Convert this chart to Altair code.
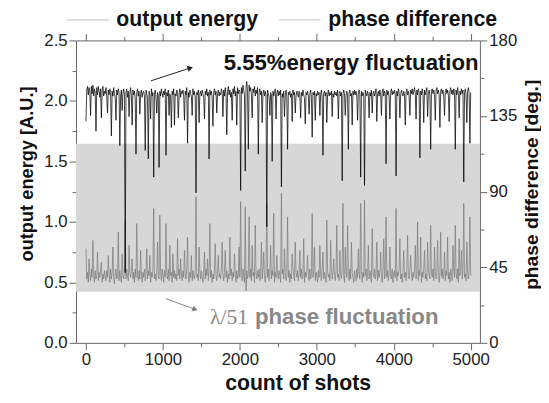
import altair as alt
import pandas as pd

# ---------------- data (one value every 10 shots) ----------------
shots = list(range(0, 5001, 10))

energy = (
    [1.83, 2.09, 2.12, 2.05, 2.11, 2.08, 1.88, 2.12, 2.06, 2.13, 2.04, 2.10, 2.07, 1.75, 2.11, 2.05, 2.12, 2.08, 2.03, 2.10, 1.86, 2.09, 2.12, 2.04, 2.08]
    + [2.06, 2.11, 2.03, 1.90, 2.09, 2.05, 2.10, 2.07, 1.71, 2.08, 2.04, 2.11, 2.06, 2.02, 1.84, 2.09, 2.05, 2.10, 2.07, 1.63, 2.04, 2.09, 1.92, 2.06, 2.10]
    + [2.05, 0.58, 2.07, 2.10, 2.03, 2.08, 1.87, 2.06, 2.11, 2.04, 1.80, 2.09, 2.05, 2.08, 2.02, 1.56, 2.07, 2.10, 2.04, 2.08, 1.89, 2.06, 2.09, 2.03, 2.07]
    + [2.08, 2.04, 1.59, 2.09, 2.06, 2.02, 1.52, 2.08, 2.05, 1.85, 2.10, 2.04, 2.07, 1.37, 2.05, 2.09, 2.03, 1.90, 2.07, 2.05, 1.45, 2.08, 2.04, 2.10, 2.06]
    + [2.03, 2.08, 2.05, 2.10, 1.55, 2.07, 2.04, 2.09, 1.88, 2.06, 2.03, 1.78, 2.08, 2.05, 2.10, 1.80, 2.06, 2.04, 2.09, 2.07, 1.86, 2.05, 2.10, 2.03, 2.08]
    + [2.06, 2.09, 2.04, 1.84, 2.08, 2.05, 2.11, 1.65, 2.07, 2.03, 2.09, 2.06, 2.04, 1.88, 2.10, 2.05, 2.08, 2.03, 1.24, 2.07, 2.05, 2.09, 1.82, 2.06, 2.08]
    + [2.04, 2.09, 2.06, 2.03, 1.85, 2.08, 2.05, 2.10, 2.04, 2.07, 1.52, 2.09, 2.05, 2.08, 2.03, 1.79, 2.07, 2.10, 2.05, 2.08, 1.90, 2.06, 2.09, 2.04, 2.07]
    + [2.05, 2.10, 2.07, 1.87, 2.09, 2.04, 2.11, 2.06, 1.72, 2.08, 2.12, 2.05, 2.09, 2.03, 2.07, 1.84, 2.10, 2.06, 2.12, 2.04, 2.08, 1.80, 2.11, 2.06, 2.09]
    + [2.08, 1.26, 2.11, 2.06, 2.13, 2.09, 2.05, 1.42, 2.12, 2.16, 2.07, 1.60, 2.13, 2.08, 2.11, 2.05, 1.86, 2.10, 2.07, 2.12, 2.04, 2.09, 2.06, 2.11, 1.56]
    + [2.07, 2.10, 2.05, 2.08, 1.82, 2.06, 2.09, 2.04, 2.08, 2.05, 0.96, 2.09, 2.06, 2.03, 1.88, 2.07, 2.05, 1.50, 2.08, 2.04, 2.07, 2.10, 1.85, 2.06, 2.09]
    + [2.04, 2.08, 2.05, 2.09, 1.29, 2.06, 2.03, 2.08, 1.87, 2.05, 2.09, 2.04, 1.60, 2.07, 2.05, 2.08, 2.03, 2.06, 1.83, 2.09, 2.05, 2.07, 1.90, 2.04, 2.08]
    + [2.06, 2.03, 2.08, 2.05, 1.86, 2.07, 2.04, 2.09, 2.05, 2.02, 1.81, 2.07, 2.05, 2.08, 2.04, 1.89, 2.06, 2.09, 2.03, 1.70, 2.07, 2.05, 2.08, 1.84, 2.06]
    + [2.04, 2.08, 2.05, 2.07, 1.88, 2.05, 2.09, 2.03, 1.55, 2.06, 2.08, 2.04, 2.07, 1.82, 2.05, 2.09, 2.04, 2.07, 2.05, 2.08, 1.87, 2.06, 2.03, 2.08, 2.05]
    + [2.07, 2.04, 2.09, 1.85, 2.06, 2.08, 2.04, 2.07, 1.34, 2.05, 2.09, 2.06, 1.88, 2.04, 2.08, 2.05, 1.60, 2.07, 2.09, 2.04, 2.06, 1.80, 2.08, 2.05, 2.09]
    + [2.05, 2.08, 2.04, 1.84, 2.07, 2.09, 2.05, 1.37, 2.08, 2.04, 2.07, 2.05, 1.30, 2.09, 2.06, 2.04, 2.08, 2.05, 1.86, 2.07, 2.04, 2.09, 1.90, 2.06, 2.08]
    + [2.04, 2.07, 2.10, 1.83, 2.06, 2.08, 2.04, 2.09, 2.05, 1.88, 2.07, 2.10, 2.04, 2.08, 2.06, 1.48, 2.09, 2.05, 2.08, 2.03, 1.85, 2.07, 2.10, 2.05, 2.08]
    + [2.06, 2.09, 2.05, 1.38, 2.08, 2.04, 2.10, 2.07, 1.86, 2.05, 2.09, 2.06, 2.04, 2.08, 2.05, 1.80, 2.07, 2.10, 2.05, 2.08, 2.04, 1.88, 2.09, 2.06, 2.10]
    + [2.05, 2.08, 2.11, 2.06, 1.85, 2.09, 2.05, 2.10, 2.07, 1.53, 2.08, 2.05, 2.10, 2.06, 1.82, 2.09, 2.05, 2.08, 2.11, 1.87, 2.06, 2.09, 2.05, 1.60, 2.08]
    + [2.10, 2.06, 2.09, 2.05, 1.84, 2.08, 2.11, 2.06, 2.09, 2.05, 1.78, 2.08, 2.10, 2.06, 2.09, 2.04, 1.88, 2.07, 2.10, 2.06, 2.09, 2.05, 1.83, 2.08, 2.11]
    + [2.06, 2.09, 2.05, 2.10, 2.07, 1.60, 2.09, 2.05, 2.11, 2.06, 1.86, 2.08, 2.05, 2.10, 2.06, 2.09, 1.33, 2.07, 2.10, 2.05, 1.82, 2.08, 2.11, 2.06, 1.65]
    + [2.07]
)

phase = (
    [56, 38, 42, 36, 50, 40, 37, 44, 39, 61, 41, 36, 43, 38, 40, 54, 37, 42, 39, 44, 48, 36, 41, 38, 43]
    + [40, 37, 43, 39, 52, 41, 36, 44, 38, 42, 57, 39, 35, 41, 44, 38, 40, 66, 37, 43, 39, 36, 53, 41, 38]
    + [42, 73, 38, 44, 40, 37, 58, 41, 39, 43, 50, 38, 42, 36, 44, 39, 71, 40, 37, 43, 38, 55, 41, 36, 42]
    + [39, 44, 37, 41, 56, 38, 43, 40, 52, 36, 42, 39, 44, 80, 38, 41, 37, 43, 60, 40, 38, 76, 42, 37, 44]
    + [40, 36, 43, 39, 71, 41, 38, 44, 37, 58, 40, 42, 36, 53, 39, 43, 38, 41, 37, 62, 40, 44, 38, 50, 41]
    + [37, 43, 39, 55, 41, 38, 44, 63, 40, 36, 42, 39, 52, 37, 43, 40, 38, 44, 87, 39, 41, 37, 57, 42, 38]
    + [43, 39, 36, 41, 54, 38, 44, 40, 50, 37, 42, 71, 39, 43, 36, 41, 38, 44, 59, 40, 37, 43, 52, 39, 41]
    + [38, 44, 60, 40, 37, 42, 55, 39, 43, 36, 41, 38, 63, 40, 44, 37, 42, 39, 53, 41, 36, 43, 38, 40, 57]
    + [39, 84, 42, 37, 44, 40, 36, 81, 31, 43, 38, 41, 75, 39, 44, 37, 58, 40, 42, 36, 70, 41, 38, 43, 39]
    + [44, 37, 41, 60, 38, 43, 54, 40, 36, 42, 83, 39, 44, 37, 41, 58, 38, 43, 40, 77, 36, 42, 39, 52, 41]
    + [38, 43, 40, 36, 89, 41, 44, 38, 56, 42, 37, 40, 75, 39, 43, 36, 41, 38, 53, 44, 40, 37, 60, 42, 39]
    + [43, 37, 41, 55, 39, 44, 38, 40, 62, 36, 42, 39, 43, 52, 40, 37, 44, 38, 41, 77, 39, 43, 57, 37, 42]
    + [40, 36, 43, 39, 58, 41, 37, 44, 54, 38, 42, 40, 36, 73, 43, 39, 41, 37, 61, 44, 38, 42, 50, 40, 37]
    + [43, 70, 39, 41, 37, 55, 42, 38, 44, 83, 40, 36, 57, 43, 39, 70, 41, 37, 44, 38, 60, 42, 39, 36, 43]
    + [40, 37, 44, 39, 56, 41, 38, 83, 43, 36, 42, 39, 85, 40, 44, 37, 41, 58, 38, 43, 40, 36, 68, 42, 39]
    + [44, 38, 41, 60, 37, 43, 39, 42, 54, 40, 36, 44, 62, 38, 41, 75, 39, 43, 37, 42, 57, 40, 38, 44, 36]
    + [41, 43, 39, 80, 37, 42, 40, 44, 62, 38, 41, 36, 43, 55, 39, 42, 37, 44, 64, 40, 38, 43, 52, 41, 37]
    + [42, 39, 44, 58, 38, 41, 72, 37, 43, 40, 63, 36, 42, 39, 44, 55, 38, 41, 37, 60, 43, 40, 38, 70, 42]
    + [39, 44, 37, 57, 41, 38, 43, 61, 40, 36, 42, 66, 39, 44, 38, 41, 54, 37, 43, 40, 63, 38, 42, 36, 44]
    + [40, 37, 58, 43, 39, 70, 41, 38, 44, 36, 62, 40, 42, 55, 38, 43, 83, 39, 41, 37, 60, 42, 38, 44, 75]
    + [40]
)

series_names = ["output energy", "phase difference"]

# highlighted band (energy units) and axis extents
band_lo, band_hi = 0.423, 1.645
x_min, x_max = -130, 5120
e_min, e_max = 0.0, 2.5
p_min, p_max = 0, 180

x_major = [0, 1000, 2000, 3000, 4000, 5000]
x_minor = [500, 1500, 2500, 3500, 4500]
e_major = [0.0, 0.5, 1.0, 1.5, 2.0, 2.5]
e_minor = [0.25, 0.75, 1.25, 1.75, 2.25]
p_major = [0, 45, 90, 135, 180]
p_minor = [22.5, 67.5, 112.5, 157.5]

# annotation arrows (data coordinates)
arrow_x1 = [844, 1036]
arrow_y1 = [2.166, 0.366]
arrow_x2 = [1355, 1418]
arrow_y2 = [2.272, 0.277]
arrow_angle = [342, 20]
arrow_color = ["#222222", "#808080"]

# ---------------- frames ----------------
df_e = pd.DataFrame({"shot": shots, "energy": energy})
df_p = pd.DataFrame({"shot": shots, "phase": phase})
df_band = pd.DataFrame({"x0": [x_min], "x1": [x_max], "lo": [band_lo], "hi": [band_hi]})
df_leg = pd.DataFrame({"series": series_names, "shot": [shots[0], shots[0]],
                       "energy": [energy[0], energy[0]]})
df_arr = pd.DataFrame({"x1": arrow_x1, "y1": arrow_y1, "x2": arrow_x2, "y2": arrow_y2,
                       "angle": arrow_angle, "color": arrow_color})

FONT = "Liberation Sans"
xs = alt.Scale(domain=[x_min, x_max], nice=False, zero=False)
es = alt.Scale(domain=[e_min, e_max], nice=False, zero=False)
ps = alt.Scale(domain=[p_min, p_max], nice=False, zero=False)


def axis(orient, values, size, labels=False, **kw):
    return alt.Axis(orient=orient, values=values, tickSize=size, labels=labels,
                    domain=False, grid=False, ticks=True, tickColor="#666666",
                    tickWidth=1, labelFont=FONT, labelFontSize=17,
                    labelColor="#222222", labelPadding=2, titleFont=FONT,
                    titleFontWeight="bold", titleColor="#111111", **kw)


band = alt.Chart(df_band).mark_rect(color="#d7d7d7").encode(
    x=alt.X("x0:Q", scale=xs, axis=None),
    x2="x1:Q",
    y=alt.Y("lo:Q", scale=es, axis=None),
    y2="hi:Q",
)

phase_line = alt.Chart(df_p).mark_line(color="#777777", strokeWidth=0.7).encode(
    x=alt.X("shot:Q", scale=xs, title="count of shots",
            axis=axis("bottom", x_major, 7, labels=True, format="d", titleFontSize=21.5,
                      titleX=225, titleY=41, titleBaseline="middle")),
    y=alt.Y("phase:Q", scale=ps, title="phase difference [deg.]",
            axis=axis("right", p_major, 7, labels=True, format="d", titleFontSize=19.5,
                      titleAngle=270, titleX=52, titleY=146, titleBaseline="middle",
                      titleAlign="center")),
)

energy_line = alt.Chart(df_e).mark_line(color="#000000", strokeWidth=0.75).encode(
    x=alt.X("shot:Q", scale=xs, title=None, axis=axis("top", x_major, 7)),
    y=alt.Y("energy:Q", scale=es, title="output energy [A.U.]",
            axis=axis("left", e_major, 7, labels=True, format=".1f", titleFontSize=18.5,
                      titleAngle=270, titleX=-50, titleY=135, titleBaseline="middle",
                      titleAlign="center")),
)

minor1 = alt.Chart(df_e).mark_point(opacity=0).encode(
    x=alt.X("shot:Q", scale=xs, title=None, axis=axis("bottom", x_minor, 4)),
    y=alt.Y("energy:Q", scale=es, title=None, axis=axis("left", e_minor, 4)),
)

minor2 = alt.Chart(df_p).mark_point(opacity=0).encode(
    x=alt.X("shot:Q", scale=xs, title=None, axis=axis("top", x_minor, 4)),
    y=alt.Y("phase:Q", scale=ps, title=None, axis=axis("right", p_minor, 4)),
)

legend_layer = alt.Chart(df_leg).mark_line(strokeWidth=1).encode(
    x=alt.X("shot:Q", scale=xs, axis=None),
    y=alt.Y("energy:Q", scale=es, axis=None),
    color=alt.Color("series:N",
                    scale=alt.Scale(domain=series_names, range=["#bdbdbd", "#c4c4c4"]),
                    legend=alt.Legend(orient="none", legendX=-10, legendY=-43,
                                      direction="horizontal", title=None,
                                      symbolType="stroke", symbolSize=1800,
                                      symbolStrokeWidth=1, labelFont=FONT,
                                      labelFontSize=21.6, labelFontWeight="bold",
                                      labelColor="#111111", labelOffset=7,
                                      columnPadding=18, padding=0, labelLimit=400)),
)

arrow_lines = alt.Chart(df_arr).mark_rule(strokeWidth=1).encode(
    x=alt.X("x1:Q", scale=xs, axis=None),
    y=alt.Y("y1:Q", scale=es, axis=None),
    x2="x2:Q",
    y2="y2:Q",
    color=alt.Color("color:N", scale=None),
)

arrow_heads = alt.Chart(df_arr).mark_point(shape="triangle-right", filled=True,
                                           size=40, opacity=1).encode(
    x=alt.X("x2:Q", scale=xs, axis=None),
    y=alt.Y("y2:Q", scale=es, axis=None),
    angle=alt.Angle("angle:Q", scale=None),
    color=alt.Color("color:N", scale=None),
)

txt_energy = alt.Chart(pd.DataFrame({"x": [1790], "y": [2.255],
                                     "t": ["5.55%energy fluctuation"]})).mark_text(
    align="left", baseline="alphabetic", font=FONT, fontSize=22.5,
    fontWeight="bold", color="#111111").encode(
    x=alt.X("x:Q", scale=xs, axis=None), y=alt.Y("y:Q", scale=es, axis=None), text="t:N")

txt_lambda = alt.Chart(pd.DataFrame({"x": [1611], "y": [0.155], "t": ["λ/51"]})).mark_text(
    align="left", baseline="alphabetic", font="Liberation Serif", fontSize=22,
    color="#888888").encode(
    x=alt.X("x:Q", scale=xs, axis=None), y=alt.Y("y:Q", scale=es, axis=None), text="t:N")

txt_phase = alt.Chart(pd.DataFrame({"x": [2197], "y": [0.155],
                                    "t": ["phase fluctuation"]})).mark_text(
    align="left", baseline="alphabetic", font=FONT, fontSize=22.5,
    fontWeight="bold", color="#888888").encode(
    x=alt.X("x:Q", scale=xs, axis=None), y=alt.Y("y:Q", scale=es, axis=None), text="t:N")

chart = alt.layer(
    band, phase_line, energy_line, minor1, minor2, legend_layer,
    arrow_lines, arrow_heads, txt_energy, txt_lambda, txt_phase,
).resolve_scale(
    x="independent", y="independent"
).properties(
    width=410, height=307,
    autosize=alt.AutoSizeParams(type="none"),
    padding={"left": 69, "top": 30, "right": 62, "bottom": 50},
).configure_view(stroke="#666666", strokeWidth=1)

chart.save("out.html", embed_options={"renderer": "svg", "actions": False})
